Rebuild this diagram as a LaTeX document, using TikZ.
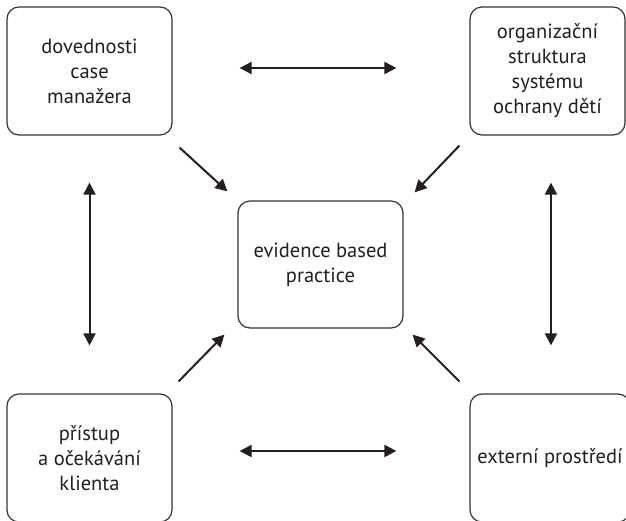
\documentclass[tikz,border=0pt]{standalone}
\usepackage{fontspec}
\setmainfont{PT Sans}
\usetikzlibrary{arrows.meta,calc}
\definecolor{inkcol}{HTML}{231F20}
\definecolor{framecol}{HTML}{333333}
\begin{document}
\begin{tikzpicture}[x=1pt,y=-1pt,
  box/.style={draw=framecol, line width=1.2pt, rounded corners=12pt,
    minimum width=165pt, minimum height=128pt, inner sep=0pt,
    align=center, text=inkcol, font=\fontsize{20.5}{25}\selectfont},
  tip/.tip={Triangle[length=12pt,width=12pt]},
  link/.style={draw=inkcol, line width=2pt, -tip},
  mutual/.style={draw=inkcol, line width=2pt, tip-tip}]
\useasboundingbox (0,0) rectangle (626,520);
\clip (0,0) rectangle (626,520);

% the five boxes
\node[box] (tl) at (89.5,71)    {dovednosti\\case\\manažera};
\node[box, minimum width=155pt] (tr) at (547.5,71) {organizační\\struktura\\systému\\ochrany dětí};
\node[box, minimum height=127pt] (c) at (320.5,264.5) {evidence based\\practice};
\node[box] (bl) at (89.5,458)   {přístup\\a očekávání\\klienta};
\node[box, minimum width=160pt] (br) at (550,458) {externí prostředí};

% two-way links between neighbouring outer boxes
\draw[mutual, shorten <=67pt, shorten >=73pt] ([yshift=3]tl.east) -- ([yshift=3]tr.west);
\draw[mutual, shorten <=67pt, shorten >=73pt] ([yshift=7]bl.east) -- ([yshift=7]br.west);
\draw[mutual, shorten <=47pt, shorten >=48pt] (tl.south) -- (bl.north);
\draw[mutual, shorten <=47pt, shorten >=48pt] ([xshift=3.5]tr.south) -- ([xshift=3.5]tr.south |- br.north);

% outer boxes feeding the centre
\draw[link] ($(tl.south east)+(7,12)$) -- ($(c.north west)+(-10,-9)$);
\draw[link] ($(tr.south west)+(-10,10)$) -- ($(c.north east)+(11,-8)$);
\draw[link] ($(bl.north east)+(6,-12)$) -- ($(c.south west)+(-13,6)$);
\draw[link] ($(br.north west)+(-10,-12)$) -- ($(c.south east)+(9,6)$);
\end{tikzpicture}
\end{document}
